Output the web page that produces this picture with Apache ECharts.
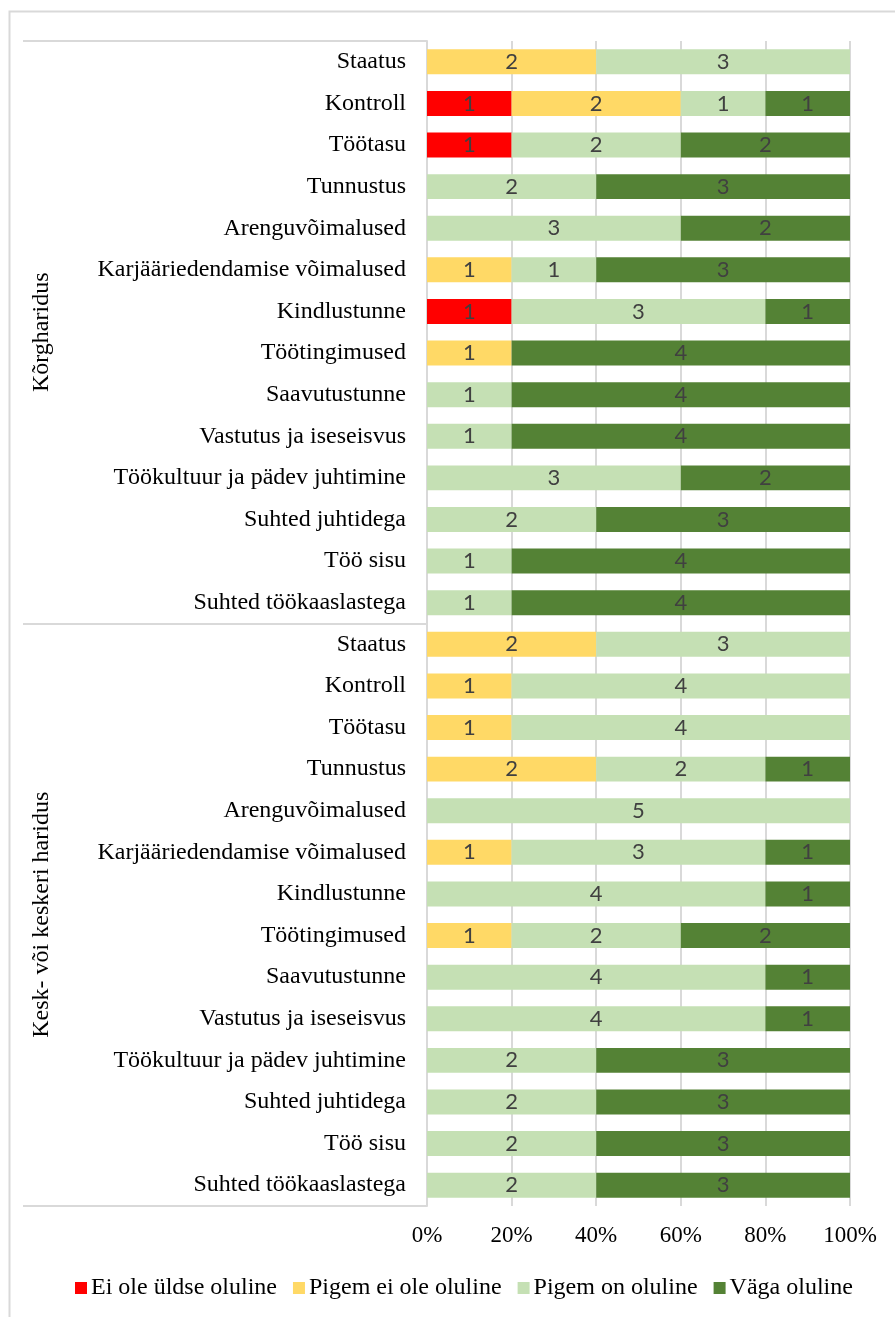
<!DOCTYPE html>
<html>
<head>
<meta charset="utf-8">
<script src="https://cdn.jsdelivr.net/npm/echarts@6/dist/echarts.min.js"></script>
<style>
  html, body { margin: 0; padding: 0; background: #ffffff; }
  #chart { width: 895px; height: 1317px; }
</style>
</head>
<body>
<div id="chart"></div>
<script>
// ---- Data ----
const categories = ['Staatus', 'Kontroll', 'Töötasu', 'Tunnustus', 'Arenguvõimalused',
  'Karjääriedendamise võimalused', 'Kindlustunne', 'Töötingimused', 'Saavutustunne',
  'Vastutus ja iseseisvus', 'Töökultuur ja pädev juhtimine', 'Suhted juhtidega',
  'Töö sisu', 'Suhted töökaaslastega'];
const groups = ['Kõrgharidus', 'Kesk- või keskeri haridus'];
const seriesNames = ['Ei ole üldse oluline', 'Pigem ei ole oluline', 'Pigem on oluline', 'Väga oluline'];
const xTickLabels = ['0%', '20%', '40%', '60%', '80%', '100%'];

// Kõrgharidus (counts)
const korgEiOle    = [0, 1, 1, 0, 0, 0, 1, 0, 0, 0, 0, 0, 0, 0];
const korgPigemEi  = [2, 2, 0, 0, 0, 1, 0, 1, 0, 0, 0, 0, 0, 0];
const korgPigemOn  = [3, 1, 2, 2, 3, 1, 3, 0, 1, 1, 3, 2, 1, 1];
const korgVaga     = [0, 1, 2, 3, 2, 3, 1, 4, 4, 4, 2, 3, 4, 4];
// Kesk- või keskeri haridus (counts)
const keskEiOle    = [0, 0, 0, 0, 0, 0, 0, 0, 0, 0, 0, 0, 0, 0];
const keskPigemEi  = [2, 1, 1, 2, 0, 1, 0, 1, 0, 0, 0, 0, 0, 0];
const keskPigemOn  = [3, 4, 4, 2, 5, 3, 4, 2, 4, 4, 2, 2, 2, 2];
const keskVaga     = [0, 0, 0, 1, 0, 1, 1, 2, 1, 1, 3, 3, 3, 3];

const colors = ['#FF0000', '#FFD966', '#C5E0B4', '#548235'];

// ---- Build ----
const countsBySeries = [
  korgEiOle.concat(keskEiOle),
  korgPigemEi.concat(keskPigemEi),
  korgPigemOn.concat(keskPigemOn),
  korgVaga.concat(keskVaga)
];
const yCats = categories.concat(categories);
const totals = yCats.map((_, i) => countsBySeries.reduce((s, arr) => s + arr[i], 0));

const serif = '"Liberation Serif", "Times New Roman", serif';
const gridColor = '#D9D9D9';

const series = seriesNames.map((name, si) => ({
  name,
  type: 'bar',
  stack: 'total',
  yAxisIndex: 0,
  barCategoryGap: '40%',
  itemStyle: { color: colors[si] },
  label: {
    show: true,
    position: 'inside',
    color: '#404040',
    fontFamily: 'Lato, "Open Sans", sans-serif',
    fontSize: 22,
    formatter: p => (p.data.count > 0 ? String(p.data.count) : '')
  },
  emphasis: { disabled: true },
  data: countsBySeries[si].map((c, i) => ({ value: totals[i] ? c / totals[i] * 100 : 0, count: c }))
}));

const chart = echarts.init(document.getElementById('chart'), null, { renderer: 'canvas' });
chart.setOption({
  animation: false,
  backgroundColor: '#ffffff',
  graphic: [{
    type: 'rect',
    shape: { x: 9.5, y: 11.5, width: 1000, height: 1400 },
    style: { fill: 'none', stroke: gridColor, lineWidth: 2 },
    silent: true
  }],
  grid: { left: 427, right: 45, top: 41, bottom: 111, containLabel: false },
  legend: {
    data: seriesNames,
    left: 70,
    top: 1271,
    icon: 'rect',
    itemWidth: 12,
    itemHeight: 12,
    itemGap: 16,
    textStyle: { fontFamily: serif, fontSize: 24, color: '#000000', padding: [0, 0, 0, -1] }
  },
  xAxis: {
    type: 'value',
    min: 0,
    max: 100,
    interval: 20,
    axisLine: { show: false },
    axisTick: { show: false },
    splitLine: { show: true, lineStyle: { color: gridColor, width: 2 } },
    axisLabel: {
      fontFamily: serif,
      fontSize: 23,
      color: '#000000',
      margin: 18,
      formatter: v => xTickLabels[Math.round(v / 20)]
    }
  },
  yAxis: [{
    type: 'category',
    data: yCats,
    inverse: true,
    position: 'left',
    axisLine: { show: true, lineStyle: { color: gridColor, width: 2 } },
    axisTick: { show: false },
    axisLabel: { fontFamily: serif, fontSize: 24, color: '#000000', margin: 21, interval: 0, padding: [3, 0, 0, 0] }
  }, {
    type: 'category',
    data: groups,
    inverse: true,
    position: 'left',
    axisLine: { show: false },
    axisTick: { show: true, length: 404, lineStyle: { color: gridColor, width: 2 } },
    axisLabel: { fontFamily: serif, fontSize: 24, color: '#000000', rotate: 90, margin: 373, interval: 0 },
    splitLine: { show: false }
  }],
  series
});
</script>
</body>
</html>
